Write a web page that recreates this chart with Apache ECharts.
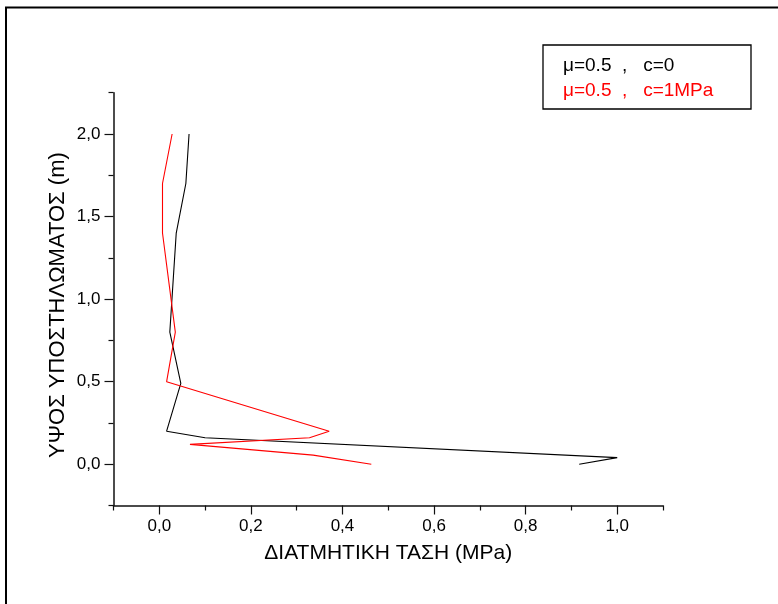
<!DOCTYPE html>
<html>
<head>
<meta charset="utf-8">
<script src="https://cdn.jsdelivr.net/npm/echarts@6/dist/echarts.min.js"></script>
<style>html,body{margin:0;padding:0;background:#fff}#c{width:778px;height:604px}</style>
</head>
<body>
<div id="c"></div>
<script>
// Series: μ=0.5, c=0 (black)
const heightsC0 = [0.0, 0.04, 0.16, 0.2, 0.49, 0.8, 1.4, 1.7, 2.0];
const shearC0   = [0.917, 1.0, 0.1, 0.016, 0.047, 0.023, 0.037, 0.058, 0.065];
// Series: μ=0.5, c=1MPa (red)
const heightsC1 = [0.0, 0.055, 0.12, 0.16, 0.2, 0.5, 0.8, 1.4, 1.7, 2.0];
const shearC1   = [0.463, 0.336, 0.067, 0.328, 0.371, 0.016, 0.035, 0.007, 0.007, 0.028];
const seriesNames = ['μ=0.5  ,   c=0', 'μ=0.5  ,   c=1MPa'];
const xTitle = 'ΔΙΑΤΜΗΤΙΚΗ ΤΑΣΗ (MPa)';
const yTitle = 'ΥΨΟΣ ΥΠΟΣΤΗΛΩΜΑΤΟΣ (m)';

const FONT = '"Liberation Sans", Arial, sans-serif';
const fmt = v => v.toFixed(1).replace('.', ',');
const pairs = (xs, ys) => xs.map((x, i) => [x, ys[i]]);

const axisCol = '#111';
const chart = echarts.init(document.getElementById('c'), null, {renderer: 'canvas'});
chart.setOption({
  animation: false,
  backgroundColor: '#fff',
  textStyle: {fontFamily: FONT},
  grid: [
    {left: 113.5, right: 115, top: 92.7, bottom: 98.5, containLabel: false},
    {left: 159.3, right: 160.8, top: 134, bottom: 139.8, containLabel: false}
  ],
  xAxis: [
    { gridIndex: 0, type: 'value', min: -0.1, max: 1.1, interval: 0.2,
      axisLine: {show: true, onZero: false, lineStyle: {color: axisCol, width: 1.5}},
      axisTick: {show: true, length: 5, lineStyle: {color: axisCol, width: 1.2}},
      axisLabel: {show: false}, splitLine: {show: false},
      name: xTitle, nameLocation: 'middle', nameGap: 37,
      nameTextStyle: {fontFamily: FONT, fontSize: 21, color: '#000'} },
    { gridIndex: 1, type: 'value', min: 0, max: 1, interval: 0.2, offset: 41.3,
      axisLine: {show: false, onZero: false},
      axisTick: {show: true, length: 9, lineStyle: {color: axisCol, width: 1.2}},
      axisLabel: {show: true, margin: 12, fontFamily: FONT, fontSize: 17, color: '#000', formatter: fmt},
      splitLine: {show: false} }
  ],
  yAxis: [
    { gridIndex: 0, type: 'value', min: -0.25, max: 2.25, interval: 0.5,
      axisLine: {show: true, onZero: false, lineStyle: {color: axisCol, width: 1.5}},
      axisTick: {show: true, length: 5, lineStyle: {color: axisCol, width: 1.2}},
      axisLabel: {show: false}, splitLine: {show: false},
      name: yTitle, nameLocation: 'middle', nameGap: 45, nameRotate: 90,
      nameTextStyle: {fontFamily: FONT, fontSize: 22, color: '#000', padding: [0, 12, 0, 0]} },
    { gridIndex: 1, type: 'value', min: 0, max: 2, interval: 0.5, offset: 45.8,
      axisLine: {show: false, onZero: false},
      axisTick: {show: true, length: 9, lineStyle: {color: axisCol, width: 1.2}},
      axisLabel: {show: true, margin: 13, fontFamily: FONT, fontSize: 17, color: '#000', formatter: fmt},
      splitLine: {show: false} }
  ],
  legend: {
    show: true, orient: 'vertical', left: 553, top: 50, icon: 'none',
    itemWidth: 0, itemHeight: 14, itemGap: 4, selectedMode: false,
    textStyle: {fontFamily: FONT, fontSize: 19, lineHeight: 21},
    data: [
      {name: seriesNames[0], textStyle: {color: '#000'}},
      {name: seriesNames[1], textStyle: {color: '#ff0000'}}
    ]
  },
  graphic: [
    {type: 'rect', shape: {x: 543, y: 45, width: 208, height: 64},
     style: {fill: 'none', stroke: '#000', lineWidth: 1.3}, z: 10},
    {type: 'polyline', shape: {points: [[6, 604], [6, 7.5], [778, 7.5]]},
     style: {fill: 'none', stroke: '#000', lineWidth: 2}, z: 10}
  ],
  series: [
    {name: seriesNames[0], type: 'line', xAxisIndex: 0, yAxisIndex: 0,
     data: pairs(shearC0, heightsC0), showSymbol: false, symbol: 'none',
     lineStyle: {color: '#000', width: 1.1}, itemStyle: {color: '#000'}},
    {name: seriesNames[1], type: 'line', xAxisIndex: 0, yAxisIndex: 0,
     data: pairs(shearC1, heightsC1), showSymbol: false, symbol: 'none',
     lineStyle: {color: '#ff0000', width: 1.1}, itemStyle: {color: '#ff0000'}}
  ]
});
</script>
</body>
</html>
